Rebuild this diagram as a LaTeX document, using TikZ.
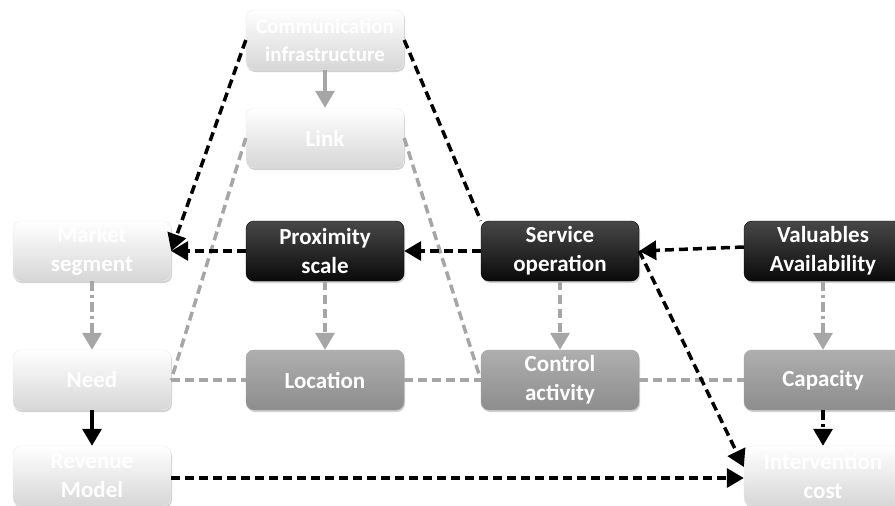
\documentclass[tikz,border=0pt]{standalone}
\usepackage{fontspec}
\setmainfont{Carlito}
\usepackage{xcolor}
\usepackage{tikz}
\usetikzlibrary{calc, positioning, arrows.meta, shadows}

\definecolor{palebox}{HTML}{EEEEEE}
\definecolor{midbox}{HTML}{A0A0A0}
\definecolor{darkbox}{HTML}{0A0A0A}
\definecolor{greyline}{HTML}{A6A6A6}

\begin{document}
\begin{tikzpicture}[x=1pt, y=-1pt,
  box/.style={rounded corners=8pt, minimum width=158pt, minimum height=60pt, align=center, text=white, inner sep=0pt,
    font=\bfseries\fontsize{23}{29}\selectfont, drop shadow={opacity=.35, shadow xshift=1pt, shadow yshift=-2pt}},
  pale/.style={box, top color=white, bottom color=palebox!90!black, draw=palebox},
  mid/.style={box, top color=midbox!85!white, bottom color=midbox!88!black, draw=midbox},
  dark/.style={box, top color=darkbox!75!white, bottom color=darkbox, draw=black},
  bk/.style={line width=3.5pt, dash pattern=on 9pt off 5pt},
  gr/.style={line width=3.5pt, greyline, dash pattern=on 9pt off 5pt},
  dd/.style={line width=3.5pt, dash pattern=on 10pt off 4pt on 3pt off 4pt},
  tip/.style={-{Triangle[length=17pt, width=19pt]}}]
\path[use as bounding box] (0,0) rectangle (895,506);
\clip (0,0) rectangle (895,506);
\fill[white] (0,0) rectangle (895,506);
% top column
\node[pale, font=\bfseries\fontsize{21}{28}\selectfont] (CI) at (325,40) {Communication\\infrastructure};
\node[pale] (Li) at (325,138) {Link};
% middle row
\node[pale] (MS) at (92,251) {Market\\segment};
\node[dark] (PS) at (325,251) {Proximity\\scale};
\node[dark] (SO) at (560,251) {Service\\operation};
\node[dark] (VA) at (823,251) {Valuables\\Availability};
% lower rows
\node[pale] (Ne) at (92,380) {Need};
\node[mid] (Lo) at (325,380) {Location};
\node[mid] (CA) at (560,380) {Control\\activity};
\node[mid] (Cp) at (823,380) {Capacity};
\node[pale] (RM) at (92,476) {Revenue\\Model};
\node[pale] (IC) at (823,476) {Intervention\\cost};
% grey links
\draw[gr] (Li.west) -- (Ne.east);
\draw[gr] (Li.east) -- (CA.west);
\draw[gr] (Ne.east) -- (Lo.west);
\draw[gr] (Lo.east) -- (CA.west);
\draw[gr] (CA.east) -- (Cp.west);
\draw[greyline, line width=3.5pt, tip] (CI.south) -- (Li.north);
\draw[gr, tip] (PS.south) -- (Lo.north);
\draw[gr, tip] (SO.south) -- (CA.north);
\draw[dd, greyline, tip] (MS.south) -- (Ne.north);
\draw[dd, greyline, tip] (VA.south) -- (Cp.north);
% black links
\draw[bk, tip] (CI.west) -- (MS.east);
\draw[bk] (CI.east) -- (SO.north west);
\draw[bk, tip] (PS.west) -- (MS.east);
\draw[bk, tip] (SO.west) -- (PS.east);
\draw[bk, tip] ([yshift=4pt]VA.west) -- (SO.east);
\draw[bk, tip] (SO.east) -- ([yshift=9pt]IC.west);
\draw[bk, tip] ([yshift=-2pt]RM.east) -- ([yshift=-2pt]IC.west);
\draw[line width=3.5pt, tip] (Ne.south) -- (RM.north);
\draw[dd, tip] (Cp.south) -- (IC.north);
\end{tikzpicture}
\end{document}
